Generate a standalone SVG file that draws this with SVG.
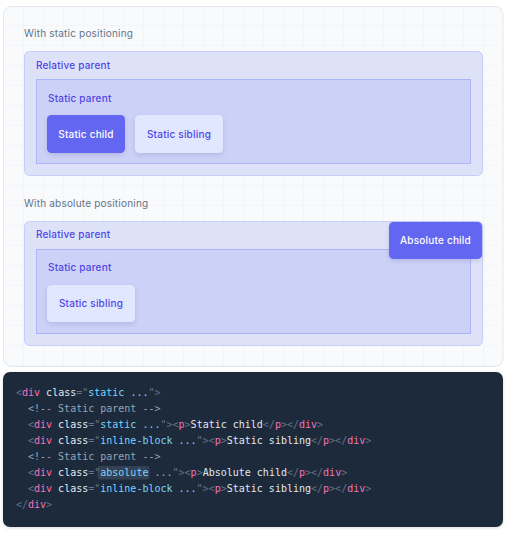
<svg xmlns="http://www.w3.org/2000/svg" width="516" height="548" viewBox="0 0 516 548">
<defs>
<pattern id="grid" width="20" height="20" patternUnits="userSpaceOnUse" x="4" y="6">
<path d="M20 0V20M0 20H20" fill="none" stroke="#eef1f5" stroke-width="1"/>
</pattern>
<filter id="sh" x="-30%" y="-30%" width="160%" height="170%">
<feDropShadow dx="0" dy="2" stdDeviation="2.5" flood-color="#1e1b4b" flood-opacity="0.12"/>
</filter>
<filter id="csh" x="-5%" y="-5%" width="110%" height="115%">
<feDropShadow dx="0" dy="1" stdDeviation="1.5" flood-color="#0f172a" flood-opacity="0.15"/>
</filter>
</defs>
<style>
.sans{font-family:Inter,"Noto Sans","Liberation Sans",sans-serif;font-size:10px;letter-spacing:0.2px}
.sec{fill:#64748b}
.lbl{fill:#4f46e5;font-weight:500}
.rel{fill:#dee2f9;stroke:#c7cdfb;stroke-width:1}
.stp{fill:#cbd1f7;stroke:#a9b4fb;stroke-width:1}
.sib{fill:#e0e7ff}
.chd{fill:#6366f1}
.wt{fill:#ffffff;font-weight:500}
.mono{font-family:"DejaVu Sans Mono","Liberation Mono",monospace;font-size:10px;fill:#e2e8f0}
.p{fill:#64748b}
.t{fill:#f472b6}
.a{fill:#e2e8f0}
.v{fill:#7dd3fc}
.c{fill:#94a3b8}
</style>
<rect width="516" height="548" fill="#ffffff"/>
<g id="card">
<rect x="3.5" y="6.5" width="499.5" height="360" rx="8" fill="#f8fafc" stroke="#e2e8f0"/>
<rect x="4" y="7" width="498.5" height="359" rx="8" fill="url(#grid)"/>
</g>
<g id="static-section">
<text class="sans sec" x="24" y="37">With static positioning</text>
<g id="relative-parent-1">
<rect class="rel" x="24.5" y="51.5" width="458" height="124" rx="5"/>
<text class="sans lbl" x="36" y="69">Relative parent</text>
</g>
<g id="static-parent-1">
<rect class="stp" x="36.5" y="79.5" width="434" height="84"/>
<text class="sans lbl" x="48" y="102">Static parent</text>
</g>
<g id="static-child-1">
<rect class="chd" x="47" y="115" width="78" height="38" rx="4.5" filter="url(#sh)"/>
<text class="sans wt" x="86" y="137.5" text-anchor="middle">Static child</text>
</g>
<g id="static-sibling-1">
<rect class="sib" x="135" y="115" width="88" height="38" rx="4.5" filter="url(#sh)"/>
<text class="sans lbl" x="179" y="137.5" text-anchor="middle">Static sibling</text>
</g>
</g>
<g id="absolute-section">
<text class="sans sec" x="24" y="207">With absolute positioning</text>
<g id="relative-parent-2">
<rect class="rel" x="24.5" y="221.5" width="458" height="124" rx="5"/>
<text class="sans lbl" x="36" y="238">Relative parent</text>
</g>
<g id="static-parent-2">
<rect class="stp" x="36.5" y="249.5" width="434" height="84"/>
<text class="sans lbl" x="48" y="271">Static parent</text>
</g>
<g id="static-sibling-2">
<rect class="sib" x="47" y="285" width="88" height="37" rx="4.5" filter="url(#sh)"/>
<text class="sans lbl" x="91" y="307" text-anchor="middle">Static sibling</text>
</g>
<g id="absolute-child">
<rect class="chd" x="389" y="222" width="93" height="37" rx="4.5" filter="url(#sh)"/>
<text class="sans wt" x="435.5" y="244" text-anchor="middle">Absolute child</text>
</g>
</g>
<g id="code">
<rect x="3" y="372" width="500" height="155" rx="7" fill="#1e293b" filter="url(#csh)"/>
<rect x="97.5" y="466" width="52" height="13.5" rx="2.5" fill="#334155"/>
<text class="mono" x="16" y="396" xml:space="preserve"><tspan class="p">&lt;</tspan><tspan class="t">div</tspan><tspan class="a"> class</tspan><tspan class="p">="</tspan><tspan class="v">static ...</tspan><tspan class="p">"&gt;</tspan></text>
<text class="mono c" x="28" y="412" xml:space="preserve">&lt;!-- Static parent --&gt;</text>
<text class="mono" x="28" y="428" xml:space="preserve"><tspan class="p">&lt;</tspan><tspan class="t">div</tspan><tspan class="a"> class</tspan><tspan class="p">="</tspan><tspan class="v">static ...</tspan><tspan class="p">"&gt;&lt;</tspan><tspan class="t">p</tspan><tspan class="p">&gt;</tspan><tspan class="a">Static child</tspan><tspan class="p">&lt;/</tspan><tspan class="t">p</tspan><tspan class="p">&gt;&lt;/</tspan><tspan class="t">div</tspan><tspan class="p">&gt;</tspan></text>
<text class="mono" x="28" y="444" xml:space="preserve"><tspan class="p">&lt;</tspan><tspan class="t">div</tspan><tspan class="a"> class</tspan><tspan class="p">="</tspan><tspan class="v">inline-block ...</tspan><tspan class="p">"&gt;&lt;</tspan><tspan class="t">p</tspan><tspan class="p">&gt;</tspan><tspan class="a">Static sibling</tspan><tspan class="p">&lt;/</tspan><tspan class="t">p</tspan><tspan class="p">&gt;&lt;/</tspan><tspan class="t">div</tspan><tspan class="p">&gt;</tspan></text>
<text class="mono c" x="28" y="460" xml:space="preserve">&lt;!-- Static parent --&gt;</text>
<text class="mono" x="28" y="476" xml:space="preserve"><tspan class="p">&lt;</tspan><tspan class="t">div</tspan><tspan class="a"> class</tspan><tspan class="p">="</tspan><tspan class="v">absolute</tspan><tspan class="c"> ...</tspan><tspan class="p">"&gt;&lt;</tspan><tspan class="t">p</tspan><tspan class="p">&gt;</tspan><tspan class="a">Absolute child</tspan><tspan class="p">&lt;/</tspan><tspan class="t">p</tspan><tspan class="p">&gt;&lt;/</tspan><tspan class="t">div</tspan><tspan class="p">&gt;</tspan></text>
<text class="mono" x="28" y="492" xml:space="preserve"><tspan class="p">&lt;</tspan><tspan class="t">div</tspan><tspan class="a"> class</tspan><tspan class="p">="</tspan><tspan class="v">inline-block ...</tspan><tspan class="p">"&gt;&lt;</tspan><tspan class="t">p</tspan><tspan class="p">&gt;</tspan><tspan class="a">Static sibling</tspan><tspan class="p">&lt;/</tspan><tspan class="t">p</tspan><tspan class="p">&gt;&lt;/</tspan><tspan class="t">div</tspan><tspan class="p">&gt;</tspan></text>
<text class="mono" x="16" y="508" xml:space="preserve"><tspan class="p">&lt;/</tspan><tspan class="t">div</tspan><tspan class="p">&gt;</tspan></text>
</g>
</svg>
